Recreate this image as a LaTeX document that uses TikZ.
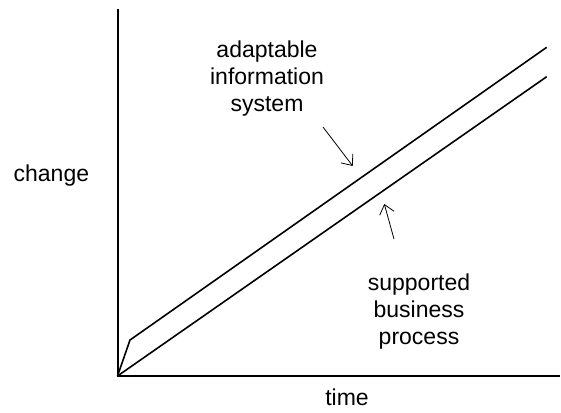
\documentclass[tikz,border=0pt]{standalone}
\usepackage{fontspec}
\setmainfont{Liberation Sans}
\usetikzlibrary{arrows.meta}
\tikzstyle{axis} = [line width=2pt]
\tikzstyle{trend} = [line width=1.6pt]
\tikzstyle{pointer} = [line width=0.8pt, 
-{Straight Barb[length=9pt,width=15pt]}]
\tikzstyle{note} = [align=center, 
font=\fontsize{23}{27}\selectfont, 
inner sep=0pt]

\begin{document}
\begin{tikzpicture}[x=1pt, y=-1pt]
		\useasboundingbox (0,0) rectangle (561,412);
		\coordinate (orig) at (117.5,376);
		\coordinate (ytop) at (117.5,9);
		\coordinate (xend) at (560,376);
		\coordinate (kink) at (130,340);
		\coordinate (isend) at (546.7,47.3);
		\coordinate (bpend) at (546.7,76.7);
		\coordinate (p1s) at (323,127);
		\coordinate (p1e) at (352.7,166);
		\coordinate (p2s) at (394,239);
		\coordinate (p2e) at (384.3,204);
	
		\draw [axis] (ytop) -- (orig) -- (xend);
		\draw [trend] (orig) -- (kink) -- (isend);
		\draw [trend] (orig) -- (bpend);
	
		% multi-line notes: base is the last line
		\node (change) [note, anchor=base] at (51.4,181.7) {change};
		\node (time) [note, anchor=base] at (347,405) {time};
		\node (infosys) [note, anchor=base] at (267,111) {adaptable\\ information\\ system};
		\node (bizproc) [note, anchor=base] at (419,344) {supported\\ business\\ process};
	
		\draw [pointer] (p1s) -- (p1e);
		\draw [pointer] (p2s) -- (p2e);
	\end{tikzpicture}
\end{document}
